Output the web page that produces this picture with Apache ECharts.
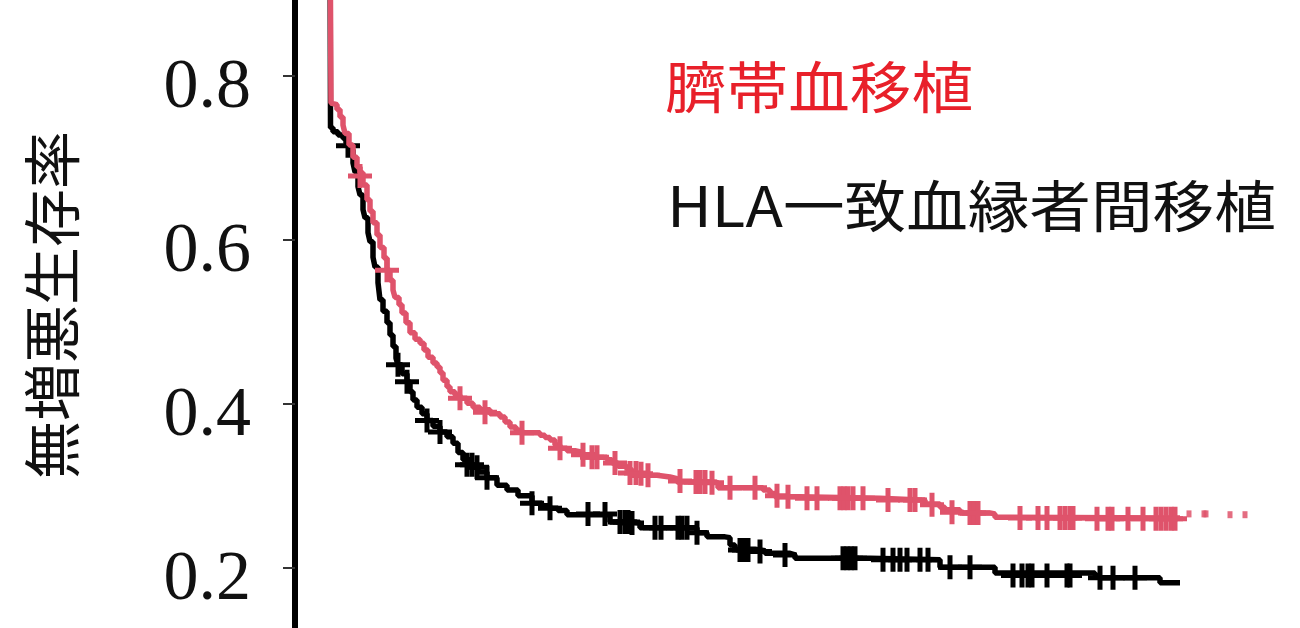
<!DOCTYPE html>
<html>
<head>
<meta charset="utf-8">
<script src="https://cdn.jsdelivr.net/npm/echarts@6/dist/echarts.min.js"></script>
<style>
html,body{margin:0;padding:0;background:#fff;}
#c{width:1300px;height:628px;}
</style>
</head>
<body>
<div id="c"></div>
<script>
// time in days (no x labels visible in the reference), survival probability
const yTicks = [0, 0.2, 0.4, 0.6, 0.8, 1.0];
const yTitle = '無増悪生存率';
const labelCord = '臍帯血移植';
const labelSib = 'HLA一致血縁者間移植';

const cordT = [0,4,12,28,40,52,60,76,92,108,120,132,148,160,172,188,200,216,228,240,252,260,276,288,304,320,340,360,376,392,412,428,440,452,468,480,500,520,548,572,600,640,680,700,720,744,768,840,860,880,900,920,948,980,1012,1060,1108,1128,1152,1188,1208,1308,1360,1388,1528,1552,1732,1760,1780,1880,2200,2360,2380,2440,2460,2520,2640,2660,2720,3400];
const cordS = [1.0,0.767,0.765,0.759,0.750,0.740,0.730,0.716,0.701,0.689,0.682,0.667,0.649,0.635,0.621,0.606,0.591,0.578,0.563,0.551,0.539,0.530,0.521,0.511,0.499,0.487,0.479,0.474,0.466,0.457,0.450,0.445,0.438,0.429,0.421,0.415,0.411,0.407,0.401,0.396,0.393,0.388,0.384,0.378,0.372,0.368,0.365,0.362,0.359,0.356,0.350,0.346,0.343,0.341,0.338,0.335,0.332,0.328,0.324,0.320,0.313,0.311,0.309,0.305,0.304,0.298,0.295,0.291,0.287,0.285,0.283,0.283,0.278,0.274,0.271,0.267,0.266,0.262,0.261,0.261];

const sibT = [0,2,12,32,52,64,76,92,100,112,120,132,140,152,160,172,180,192,200,212,228,240,252,264,272,288,308,320,332,348,368,388,412,440,468,492,512,532,560,592,628,668,708,752,808,848,880,912,948,1100,1120,1208,1240,1440,1468,1508,1580,1600,1620,1700,1740,1840,1860,2160,2440,2640,2660,3060,3080,3300,3320,3400];
const sibS = [1.0,0.737,0.732,0.728,0.724,0.718,0.710,0.694,0.683,0.665,0.655,0.637,0.627,0.609,0.598,0.579,0.567,0.548,0.527,0.513,0.499,0.484,0.470,0.456,0.448,0.437,0.427,0.415,0.405,0.396,0.388,0.380,0.373,0.366,0.360,0.352,0.341,0.332,0.323,0.317,0.310,0.301,0.295,0.288,0.279,0.276,0.273,0.270,0.265,0.265,0.256,0.255,0.249,0.249,0.243,0.238,0.237,0.228,0.223,0.221,0.218,0.216,0.212,0.210,0.201,0.201,0.194,0.191,0.188,0.188,0.182,0.182];

// censoring marks
const cordCensT = [120,228,520,620,768,920,1012,1048,1068,1140,1200,1224,1244,1272,1400,1464,1480,1500,1528,1600,1700,1788,1832,1908,1948,2040,2056,2072,2092,2132,2232,2320,2340,2408,2488,2560,2576,2592,2760,2832,2868,2920,2940,2960,2972,3068,3112,3128,3192,3252,3304,3324,3344,3364,3380];
const cordCensS = [0.678,0.563,0.407,0.390,0.365,0.346,0.338,0.335,0.335,0.328,0.316,0.316,0.315,0.313,0.306,0.305,0.305,0.305,0.304,0.298,0.298,0.288,0.287,0.285,0.285,0.285,0.285,0.285,0.285,0.285,0.283,0.283,0.283,0.277,0.268,0.267,0.267,0.267,0.261,0.261,0.261,0.261,0.261,0.261,0.261,0.260,0.260,0.260,0.260,0.260,0.260,0.260,0.260,0.260,0.260];
const sibCensT = [72,272,308,388,440,548,568,588,628,808,880,1032,1100,1160,1180,1192,1208,1300,1324,1392,1408,1428,1468,1640,1656,1672,1720,1820,2052,2068,2084,2100,2212,2252,2280,2308,2360,2392,2480,2560,2732,2768,2792,2808,2868,2948,2960,3080,3132,3220];
const sibCensS = [0.715,0.448,0.427,0.380,0.366,0.326,0.326,0.323,0.310,0.279,0.273,0.266,0.266,0.256,0.256,0.256,0.255,0.249,0.249,0.249,0.249,0.249,0.243,0.222,0.222,0.222,0.220,0.216,0.212,0.212,0.212,0.212,0.210,0.210,0.210,0.210,0.210,0.210,0.201,0.201,0.191,0.191,0.191,0.191,0.191,0.191,0.191,0.188,0.188,0.188];
// faint fragments after the red curve ends
const cordTailT = [3436,3496,3504,3600,3660];
const cordTailS = [0.266,0.266,0.266,0.265,0.265];

const RED = '#DF536B';
const BLACK = '#000000';
const PLUS = 'path://M9.5,0H14.5V9.5H24V14.5H14.5V24H9.5V14.5H0V9.5H9.5Z';

function zip(a, b) { return a.map((v, i) => [v, b[i]]); }

const chart = echarts.init(document.getElementById('c'), null, {renderer: 'canvas'});
chart.setOption({
  animation: false,
  backgroundColor: '#ffffff',
  grid: {left: 295, right: 0, top: -88, bottom: -104, containLabel: false, outerBoundsMode: 'none'},
  xAxis: {type: 'value', min: -140, max: 3880, show: false},
  yAxis: {
    type: 'value', min: yTicks[0], max: yTicks[yTicks.length - 1], interval: 0.2,
    axisLine: {show: true, onZero: false, lineStyle: {color: '#000', width: 6}},
    axisTick: {show: true, length: 12, lineStyle: {color: '#333', width: 2}},
    splitLine: {show: false},
    axisLabel: {
      margin: 44, color: '#111', fontFamily: 'Liberation Serif', fontSize: 70,
      verticalAlign: 'top', lineHeight: 26,
      formatter: v => v.toFixed(1)
    }
  },
  graphic: [
    {type: 'text', x: 52, y: 305, rotation: Math.PI / 2,
     style: {text: yTitle, fill: '#111', font: '58px "Noto Sans CJK JP"', textAlign: 'center', textVerticalAlign: 'middle'}},
    {type: 'text', x: 665, y: 87, scaleX: 1.1,
     style: {text: labelCord, fill: '#e8202a', font: '56px "Noto Sans CJK JP"', textAlign: 'left', textVerticalAlign: 'middle'}},
    {type: 'text', x: 667, y: 206, scaleX: 1.1,
     style: {text: labelSib, fill: '#111', font: '56px "Noto Sans CJK JP"', textAlign: 'left', textVerticalAlign: 'middle'}}
  ],
  series: [
    {type: 'line', step: 'end', data: zip(sibT, sibS), showSymbol: false, lineStyle: {color: BLACK, width: 5.5}, z: 2},
    {type: 'scatter', data: zip(sibCensT, sibCensS), symbol: PLUS, symbolSize: 24, itemStyle: {color: BLACK, opacity: 1}, z: 3},
    {type: 'line', step: 'end', data: zip(cordT, cordS), showSymbol: false, lineStyle: {color: RED, width: 5.5}, z: 4},
    {type: 'scatter', data: zip(cordCensT, cordCensS), symbol: PLUS, symbolSize: 24, itemStyle: {color: RED, opacity: 1}, z: 5},
    {type: 'scatter', data: zip(cordTailT, cordTailS), symbol: 'rect', symbolSize: [5, 7], itemStyle: {color: RED, opacity: 0.85}, z: 5}
  ]
});
</script>
</body>
</html>
